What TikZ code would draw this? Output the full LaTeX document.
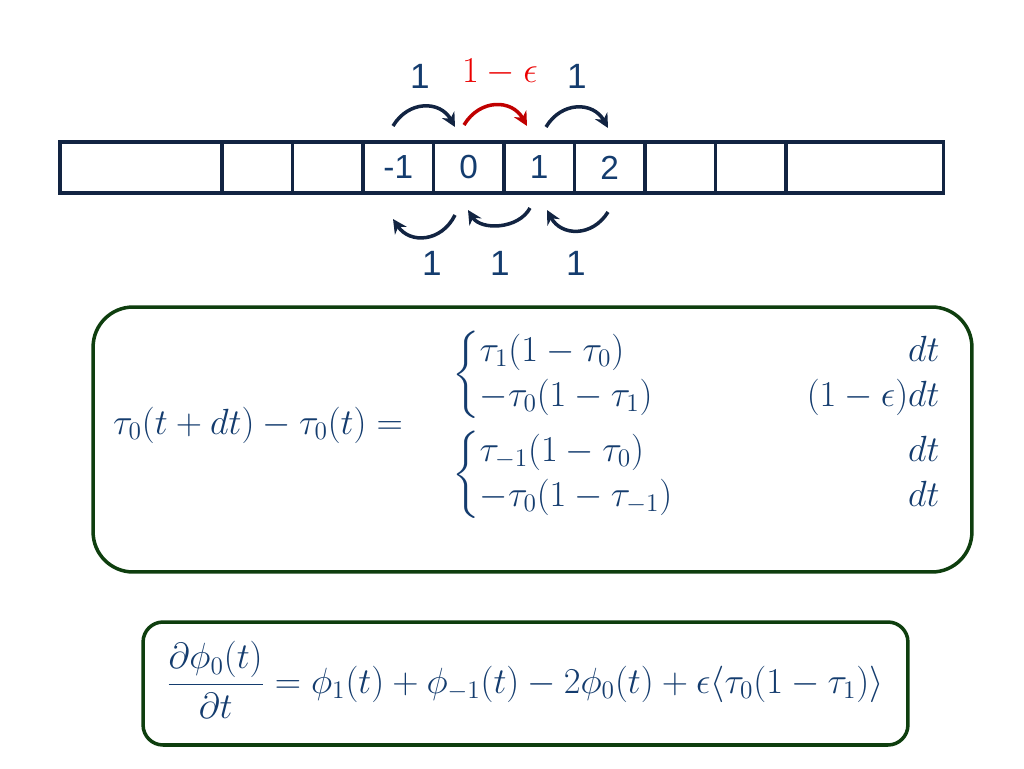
\documentclass[tikz,border=0pt]{standalone}
\usepackage{amsmath}
\usepackage{fontspec}
\newfontfamily\arialfont{Liberation Sans}
\usetikzlibrary{arrows.meta,positioning}
\definecolor{navyline}{RGB}{18,36,66}
\definecolor{eqblue}{RGB}{20,60,110}
\definecolor{hopred}{RGB}{192,0,0}
\definecolor{labelred}{RGB}{235,0,0}
\definecolor{boxgreen}{RGB}{14,62,14}

\begin{document}
\begin{tikzpicture}[x=0.02cm, y=-0.02cm, every node/.style={
    inner sep=0pt,
    text=eqblue
},
cell/.style={rectangle, draw=navyline, line width=2pt, minimum height=1.02cm, minimum width=1.41cm, font=\arialfont\fontsize{19}{22}\selectfont},
hoplabel/.style={font=\arialfont\fontsize{20}{24}\selectfont},
hop/.style={->, >={Stealth[length=8pt, width=8pt]}, navyline, line width=2pt, bend left=60, looseness=1.25},
eqbox/.style={rectangle, draw=boxgreen, line width=2pt, rounded corners=0.8cm},
eq/.style={font=\fontsize{22}{25.6}\selectfont}]

    \useasboundingbox (0,0) rectangle (1024,768);



    \node (cell_left_end) [cell, minimum width=3.24cm, shift={(141,167.5)}] {};
    \node (cell_m3) [cell, shift={(257.25,167.5)}] {};
    \node (cell_m2) [cell, shift={(327.75,167.5)}] {};
    \node (cell_m1) [cell, shift={(398.25,167.5)}] {-1};
    \node (cell_0) [cell, shift={(468.75,167.5)}] {0};
    \node (cell_1) [cell, shift={(539.25,167.5)}] {1};
    \node (cell_2) [cell, shift={(609.75,167.5)}] {2};
    \node (cell_3) [cell, shift={(680.25,167.5)}] {};
    \node (cell_4) [cell, shift={(750.75,167.5)}] {};
    \node (cell_right_end) [cell, minimum width=3.16cm, shift={(864.5,167.5)}] {};



    \coordinate (hop_m1_0_from) at (393,126);
    \coordinate (hop_m1_0_to) at (455,127);
    \coordinate (hop_0_1_from) at (464,125);
    \coordinate (hop_0_1_to) at (527,126);
    \coordinate (hop_1_2_from) at (546,127);
    \coordinate (hop_1_2_to) at (608,128);

    \coordinate (hop_0_m1_from) at (455,215);
    \coordinate (hop_0_m1_to) at (393,219);
    \coordinate (hop_1_0_from) at (530,208);
    \coordinate (hop_1_0_to) at (468,210);
    \coordinate (hop_2_1_from) at (608,212);
    \coordinate (hop_2_1_to) at (547,210);

    \draw[hop] (hop_m1_0_from) to (hop_m1_0_to);
    \draw[hop, hopred] (hop_0_1_from) to (hop_0_1_to);
    \draw[hop] (hop_1_2_from) to (hop_1_2_to);
    \draw[hop] (hop_0_m1_from) to (hop_0_m1_to);
    \draw[hop, looseness=1.0] (hop_1_0_from) to (hop_1_0_to);
    \draw[hop] (hop_2_1_from) to (hop_2_1_to);

    \node (rate_m1_0) [hoplabel, shift={(420,76)}] {1};
    \node (rate_0_1) [hoplabel, text=labelred, shift={(500,72)}] {$1-\epsilon$};
    \node (rate_1_2) [hoplabel, shift={(577,76)}] {1};
    \node (rate_0_m1) [hoplabel, shift={(432,263)}] {1};
    \node (rate_1_0) [hoplabel, shift={(500,263)}] {1};
    \node (rate_2_1) [hoplabel, shift={(576,263)}] {1};



    \node (update_box) [eqbox, minimum width=17.58cm, minimum height=5.3cm, shift={(532.5,439.5)}] {};

    \node (tau_increment) [eq, shift={(258,425)}]
    {
        $\tau_0(t+dt)-\tau_0(t)=$
    };

    \node (moves_right) [eq, anchor=west, shift={(452,375)}]
    {
        $\left\{\begin{array}{@{}l@{}}
        \tau_1(1-\tau_0)\\
        -\tau_0(1-\tau_1)
        \end{array}\right.$
    };

    \node (moves_right_dt) [eq, anchor=east, shift={(940,375)}]
    {
        $\begin{array}{@{}r@{}}
        dt\\
        (1-\epsilon)dt
        \end{array}$
    };

    \node (moves_left) [eq, anchor=west, shift={(452,475)}]
    {
        $\left\{\begin{array}{@{}l@{}}
        \tau_{-1}(1-\tau_0)\\
        -\tau_0(1-\tau_{-1})
        \end{array}\right.$
    };

    \node (moves_left_dt) [eq, anchor=east, shift={(940,475)}]
    {
        $\begin{array}{@{}r@{}}
        dt\\
        dt
        \end{array}$
    };



    \node (mean_box) [eqbox, rounded corners=0.4cm, minimum width=15.3cm, minimum height=2.46cm, shift={(525.5,683.5)}] {};

    \node (mean_current) [eq, shift={(525,680)}]
    {
        $\dfrac{\partial\phi_0(t)}{\partial t}=\phi_1(t)+\phi_{-1}(t)-2\phi_0(t)+\epsilon\langle\tau_0(1-\tau_1)\rangle$
    };


\end{tikzpicture}
\end{document}
